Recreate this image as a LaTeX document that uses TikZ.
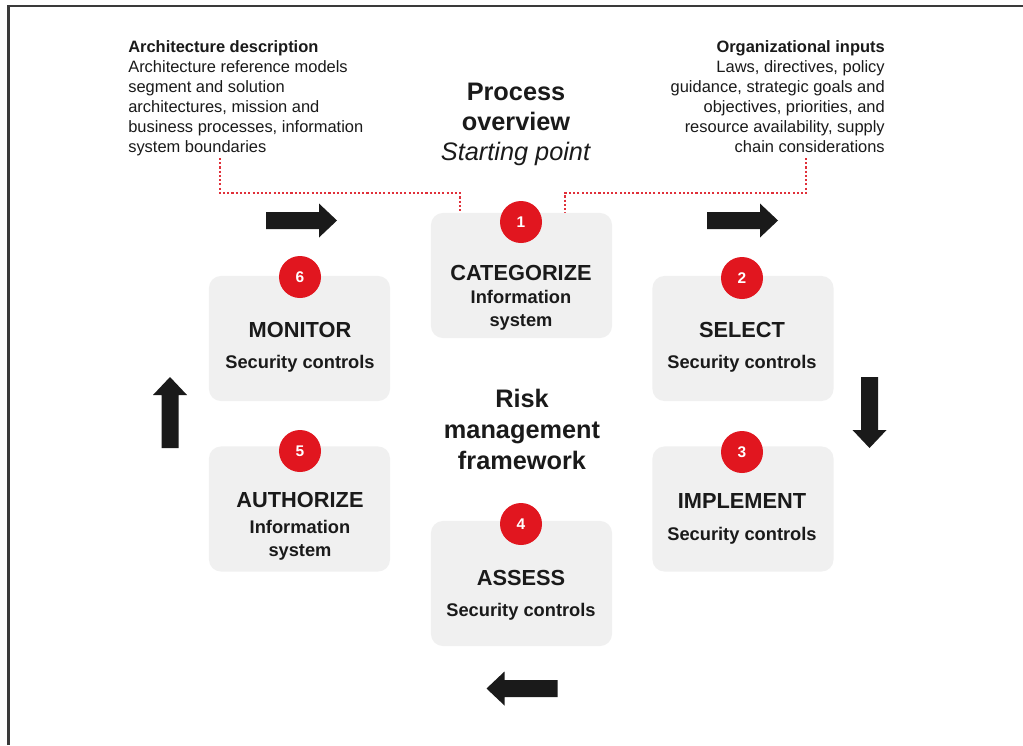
\documentclass[tikz,border=0pt]{standalone}
\usepackage{fontspec}
\setmainfont{Liberation Sans}
\usetikzlibrary{positioning}

\definecolor{boxgray}{HTML}{F0F0F0}
\definecolor{rmfred}{HTML}{E1161F}
\definecolor{dotred}{HTML}{E0303A}
\definecolor{inkgray}{HTML}{1A1A1A}
\definecolor{framegray}{HTML}{3A3A3A}

\tikzset{
    stepbox/.style={fill=boxgray, rounded corners=0.3cm, minimum width=4.525cm, minimum height=3.125cm, inner sep=0pt},
    badge/.style={circle, fill=rmfred, text=white, minimum size=1.05cm, inner sep=0pt, font=\fontsize{11}{13}\selectfont\bfseries},
    steptitle/.style={anchor=base, inner sep=0pt, text=inkgray, font=\fontsize{15.5}{18}\selectfont\bfseries},
    stepsub/.style={anchor=base, inner sep=0pt, align=center, text=inkgray, font=\fontsize{13}{16.4}\selectfont\bfseries},
    inputtext/.style={inner sep=0pt, text=inkgray, font=\fontsize{11.7}{14.2}\selectfont},
    headline/.style={anchor=base, inner sep=0pt, align=center, text=inkgray},
    feed/.style={dotred, line width=1.5pt, dash pattern=on 1.5pt off 1.5pt},
    bigarrow/.pic={\fill[inkgray] (-35.5,-8.5) -- (17.5,-8.5) -- (17.5,-17) -- (35.5,0) -- (17.5,17) -- (17.5,8.5) -- (-35.5,8.5) -- cycle;}
}

\begin{document}
\begin{tikzpicture}[x=0.025cm, y=-0.025cm]
        \useasboundingbox (0,0) rectangle (1023,745);
        \fill[white] (0,0) rectangle (1023,745);
        \draw[framegray, line width=1.6pt] (8.5,745) -- (8.5,6) -- (1023,6);

        % inputs (base = last line)
        \node[inputtext, anchor=base west, align=left] (archdesc) at (128,152) {\textbf{Architecture description}\\Architecture reference models\\segment and solution\\architectures, mission and\\business processes, information\\system boundaries};
        \node[inputtext, anchor=base east, align=right] (orginputs) at (885,152) {\textbf{Organizational inputs}\\Laws, directives, policy\\guidance, strategic goals and\\objectives, priorities, and\\resource availability, supply\\chain considerations};
        \node[headline, font=\fontsize{18}{21.3}\selectfont] (overview) at (516,160) {\textbf{Process}\\\textbf{overview}\\\textit{Starting point}};
        \node[headline, font=\fontsize{18}{22}\selectfont\bfseries] (rmf) at (522,469) {Risk\\management\\framework};

        \coordinate (archfoot) at (220,158);
        \coordinate (orgfoot) at (806,158);
        \coordinate (catin) at (460,213);
        \coordinate (catout) at (565,213);
        \draw[feed] (archfoot) -- ++(0,35) -| (catin);
        \draw[feed] (orgfoot) -- ++(0,35) -| (catout);

        % steps
        \node[stepbox] (categorize) at (521.5,275.5) {};
        \node[stepbox] (monitor) at (299.5,338.5) {};
        \node[stepbox] (select) at (743,338.5) {};
        \node[stepbox] (authorize) at (299.5,509) {};
        \node[stepbox] (implement) at (743,509) {};
        \node[stepbox] (assess) at (521.5,583.5) {};

        \node[badge] (b1) at (521,222) {1};
        \node[badge] (b2) at (742,278) {2};
        \node[badge] (b3) at (742,452) {3};
        \node[badge] (b4) at (521,524) {4};
        \node[badge] (b5) at (300,451) {5};
        \node[badge] (b6) at (300,277) {6};

        \node[steptitle] (t1) at (521,280) {CATEGORIZE};
        \node[stepsub] (s1) at (521,326.5) {Information\\system};
        \node[steptitle] (t2) at (742,337) {SELECT};
        \node[stepsub] (s2) at (742,368.5) {Security controls};
        \node[steptitle] (t3) at (742,508) {IMPLEMENT};
        \node[stepsub] (s3) at (742,540.5) {Security controls};
        \node[steptitle] (t4) at (521,585) {ASSESS};
        \node[stepsub] (s4) at (521,616.5) {Security controls};
        \node[steptitle] (t5) at (300,507) {AUTHORIZE};
        \node[stepsub] (s5) at (300,556.5) {Information\\system};
        \node[steptitle] (t6) at (300,337) {MONITOR};
        \node[stepsub] (s6) at (300,368.5) {Security controls};

        % cycle arrows
        \pic at (301.5,220.5) {bigarrow};
        \pic at (742.5,220.5) {bigarrow};
        \pic[rotate=-90] at (869.5,412.5) {bigarrow};
        \pic[rotate=180] at (522,688.5) {bigarrow};
        \pic[rotate=90] at (170,412.5) {bigarrow};
    \end{tikzpicture}
\end{document}
